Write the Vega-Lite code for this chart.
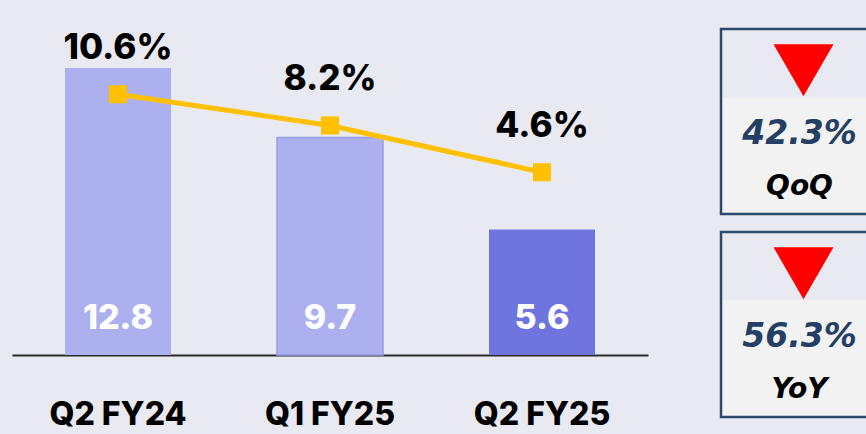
{
  "$schema": "https://vega.github.io/schema/vega-lite/v6.json",
  "background": "#E9EAF1",
  "padding": {"left": 12, "top": 0, "right": 0, "bottom": 0},
  "spacing": 71,
  "config": {"view": {"stroke": null}},
  "hconcat": [
    {
      "width": 636,
      "height": 355,
      "data": {"values": [
        {"period": "Q2 FY24", "sales": 12.8, "margin": 10.6},
        {"period": "Q1 FY25", "sales": 9.7, "margin": 8.2},
        {"period": "Q2 FY25", "sales": 5.6, "margin": 4.6}
      ]},
      "transform": [{"calculate": "format(datum.margin, '.1f') + '%'", "as": "marginLabel"}],
      "encoding": {
        "x": {"field": "period", "type": "nominal", "sort": null,
          "scale": {"paddingInner": 0.5, "paddingOuter": 0.25},
          "axis": {"title": null, "ticks": false, "labelAngle": 0, "domainColor": "#2B2B2B", "domainWidth": 2,
            "labelFont": "Inter", "labelFontWeight": 800, "labelFontSize": 32, "labelColor": "#000000",
            "labelBaseline": "alphabetic", "labelPadding": 69}}
      },
      "layer": [
        {
          "mark": {"type": "bar", "strokeWidth": 1.5},
          "encoding": {
            "y": {"field": "sales", "type": "quantitative", "scale": {"domain": [0, 15.83]}, "axis": null},
            "color": {"field": "period", "type": "nominal", "legend": null,
              "scale": {"domain": ["Q2 FY24", "Q1 FY25", "Q2 FY25"], "range": ["#ADB0EE", "#ADB0EE", "#7074DE"]}},
            "stroke": {"condition": {"test": "datum.period === 'Q1 FY25'", "value": "#999CE6"}, "value": null}
          }
        },
        {
          "mark": {"type": "text", "color": "#FFFFFF", "font": "Inter", "fontWeight": 800, "fontSize": 34, "baseline": "middle", "dy": -36},
          "encoding": {
            "y": {"datum": 0, "type": "quantitative", "scale": {"domain": [0, 15.83]}, "axis": null},
            "text": {"field": "sales", "type": "quantitative", "format": ".1f"}
          }
        },
        {
          "mark": {"type": "line", "color": "#FFC000", "strokeWidth": 5},
          "encoding": {
            "y": {"field": "margin", "type": "quantitative", "scale": {"domain": [-9.46, 17.85]}, "axis": null}
          }
        },
        {
          "mark": {"type": "point", "shape": "square", "size": 324, "filled": true, "opacity": 1, "color": "#FFC000"},
          "encoding": {
            "y": {"field": "margin", "type": "quantitative", "scale": {"domain": [-9.46, 17.85]}, "axis": null}
          }
        },
        {
          "mark": {"type": "text", "color": "#000000", "font": "Inter", "fontWeight": 800, "fontSize": 35, "baseline": "middle", "dy": -46},
          "encoding": {
            "y": {"field": "margin", "type": "quantitative", "scale": {"domain": [-9.46, 17.85]}, "axis": null},
            "text": {"field": "marginLabel", "type": "nominal"}
          }
        }
      ],
      "resolve": {"scale": {"y": "independent"}}
    },
    {
      "width": 147,
      "height": 434,
      "data": {"values": [
        {"metric": "QoQ", "change": 42.3},
        {"metric": "YoY", "change": 56.3}
      ]},
      "transform": [{"calculate": "format(datum.change, '.1f') + '%'", "as": "changeLabel"}],
      "layer": [
        {
          "mark": {"type": "rect", "fill": "#F2F2F2"},
          "encoding": {
            "y": {"field": "metric", "type": "nominal", "axis": null,
              "scale": {"type": "band", "paddingInner": 0.4236, "paddingOuter": 0.2833, "align": 0.852}}
          }
        },
        {
          "mark": {"type": "rect", "fill": null, "fillOpacity": 0, "stroke": "#2E4A6B", "strokeWidth": 2.5},
          "encoding": {
            "y": {"field": "metric", "type": "nominal", "axis": null,
              "scale": {"type": "band", "paddingInner": 0.0887, "paddingOuter": 0.1133, "align": 0.63}}
          }
        },
        {
          "mark": {"type": "point", "shape": "triangle-down", "size": 3600, "filled": true, "opacity": 1, "color": "#FF0000", "xOffset": 9},
          "encoding": {
            "y": {"field": "metric", "type": "nominal", "axis": null, "bandPosition": 0.223,
              "scale": {"type": "band", "paddingInner": 0.0887, "paddingOuter": 0.1133, "align": 0.63}}
          }
        },
        {
          "mark": {"type": "text", "color": "#243F63", "font": "DejaVu Sans", "fontWeight": "bold", "fontStyle": "oblique", "fontSize": 33, "baseline": "middle", "xOffset": 5},
          "encoding": {
            "y": {"field": "metric", "type": "nominal", "axis": null, "bandPosition": 0.567,
              "scale": {"type": "band", "paddingInner": 0.0887, "paddingOuter": 0.1133, "align": 0.63}},
            "text": {"field": "changeLabel", "type": "nominal"}
          }
        },
        {
          "mark": {"type": "text", "color": "#000000", "font": "DejaVu Sans", "fontWeight": "bold", "fontStyle": "oblique", "fontSize": 28, "baseline": "middle", "xOffset": 5},
          "encoding": {
            "y": {"field": "metric", "type": "nominal", "axis": null, "bandPosition": 0.853,
              "scale": {"type": "band", "paddingInner": 0.0887, "paddingOuter": 0.1133, "align": 0.63}},
            "text": {"field": "metric", "type": "nominal"}
          }
        }
      ],
      "resolve": {"scale": {"y": "independent"}}
    }
  ]
}
